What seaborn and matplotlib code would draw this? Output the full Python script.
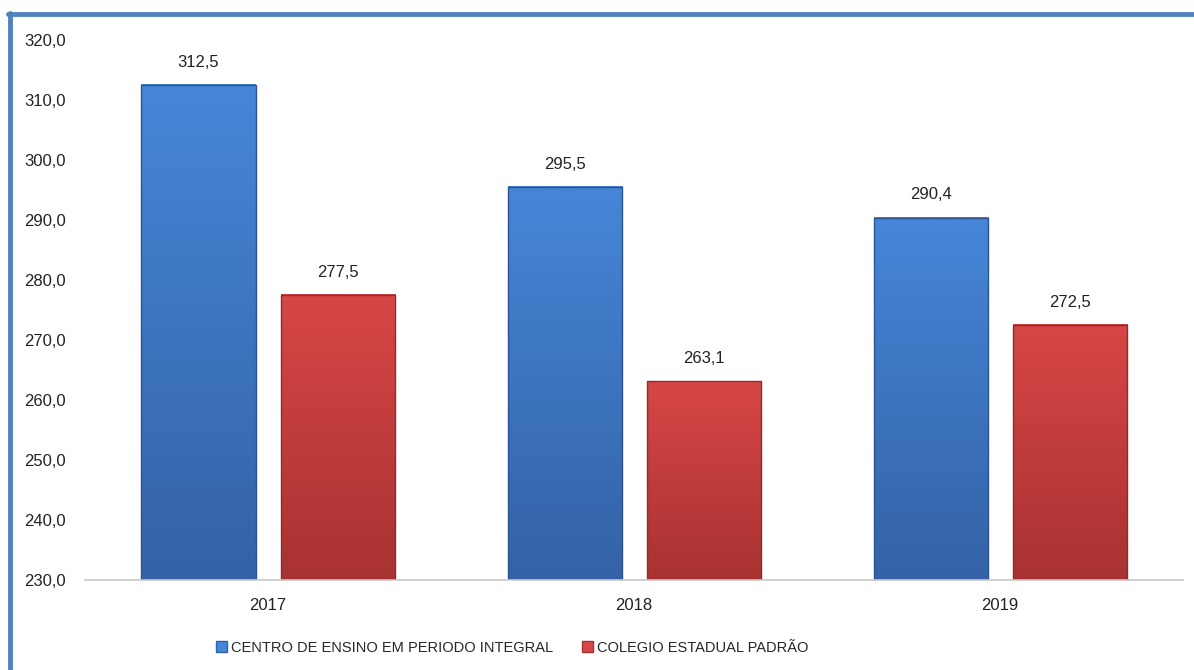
import matplotlib
matplotlib.use("Agg")
import matplotlib.pyplot as plt
import matplotlib.colors as mcolors
from matplotlib.lines import Line2D
from matplotlib.patches import Rectangle, Patch
import numpy as np
import pandas as pd
import seaborn as sns

years = ["2017", "2018", "2019"]
series_names = ["CENTRO DE ENSINO EM PERIODO INTEGRAL", "COLEGIO ESTADUAL PADRÃO"]
integral = [312.5, 295.5, 290.4]
padrao = [277.5, 263.1, 272.5]
y_ticks = [230, 240, 250, 260, 270, 280, 290, 300, 310, 320]

df = pd.DataFrame({
    "ano": years * 2,
    "serie": [series_names[0]] * 3 + [series_names[1]] * 3,
    "valor": integral + padrao,
})

sns.set_theme(style="white")
plt.rcParams['font.family'] = ['Liberation Sans', 'DejaVu Sans']

top_cols = {series_names[0]: "#4686D8", series_names[1]: "#D84646"}
bot_cols = {series_names[0]: "#3462A6", series_names[1]: "#A83232"}
YMIN, YMAX = 230, 320

fig = plt.figure(figsize=(11.94, 6.70), dpi=100)
ax = fig.add_axes([0.0712, 0.1343, 0.9198, 0.8060])

sns.barplot(data=df, x="ano", y="valor", hue="serie", order=years,
            hue_order=series_names, palette=top_cols, width=0.76, gap=0.18,
            ax=ax, legend=False, saturation=1, edgecolor="none")

ax.set_ylim(YMIN, YMAX)
ax.set_xlim(-0.5, 2.5)
ax.set_yticks(y_ticks)
ax.set_yticklabels([f"{v:.1f}".replace(".", ",") for v in y_ticks])
ax.set_xlabel("")
ax.set_ylabel("")
for s in ["top", "right", "left"]:
    ax.spines[s].set_visible(False)
ax.spines["bottom"].set_color("#C8C8C8")
ax.spines["bottom"].set_linewidth(1.2)
ax.spines["bottom"].set_zorder(5)
ax.tick_params(axis="y", length=0, labelsize=12, pad=14, colors="#222222")
ax.tick_params(axis="x", length=0, labelsize=12, pad=13, colors="#222222")

# gradient fill for bars, restricted to the visible range
for cont, name in zip(ax.containers, series_names):
    top = np.array(mcolors.to_rgb(top_cols[name]))
    bot = np.array(mcolors.to_rgb(bot_cols[name]))
    grad = np.linspace(0, 1, 256)[:, None, None]
    img = top * (1 - grad) + bot * grad
    for bar in cont:
        x0, w = bar.get_x(), bar.get_width()
        y1 = bar.get_y() + bar.get_height()
        y0 = max(bar.get_y(), YMIN)
        bar.set_visible(False)
        ax.imshow(img, extent=[x0, x0 + w, y0, y1], aspect="auto",
                  origin="upper", zorder=2, interpolation="bilinear")
        ax.add_patch(Rectangle((x0, y0), w, y1 - y0, fill=False,
                               edgecolor=bot * 0.85, linewidth=1.0, zorder=3))
        ax.annotate(f"{y1:.1f}".replace(".", ","), (x0 + w / 2, y1),
                    xytext=(0, 11), textcoords="offset points",
                    ha="center", va="bottom", fontsize=12, color="#222222")
ax.set_xlim(-0.5, 2.5)
ax.set_ylim(YMIN, YMAX)

handles = [Patch(facecolor=top_cols[n], edgecolor=bot_cols[n]) for n in series_names]
fig.legend(handles, series_names, loc="center", bbox_to_anchor=(0.429, 0.033),
           ncol=2, frameon=False, fontsize=10.5, handletextpad=0.25,
           columnspacing=2.0, handlelength=0.75, handleheight=0.75)

# frame lines (blue border at top and left)
fig.add_artist(Line2D([0.007, 1.0], [0.979, 0.979], transform=fig.transFigure,
                      color="#4F81BD", linewidth=3.5))
fig.add_artist(Line2D([0.0085, 0.0085], [0.981, 0.0], transform=fig.transFigure,
                      color="#4F81BD", linewidth=3.5))

fig.savefig("out.png", dpi=100, facecolor="white")
